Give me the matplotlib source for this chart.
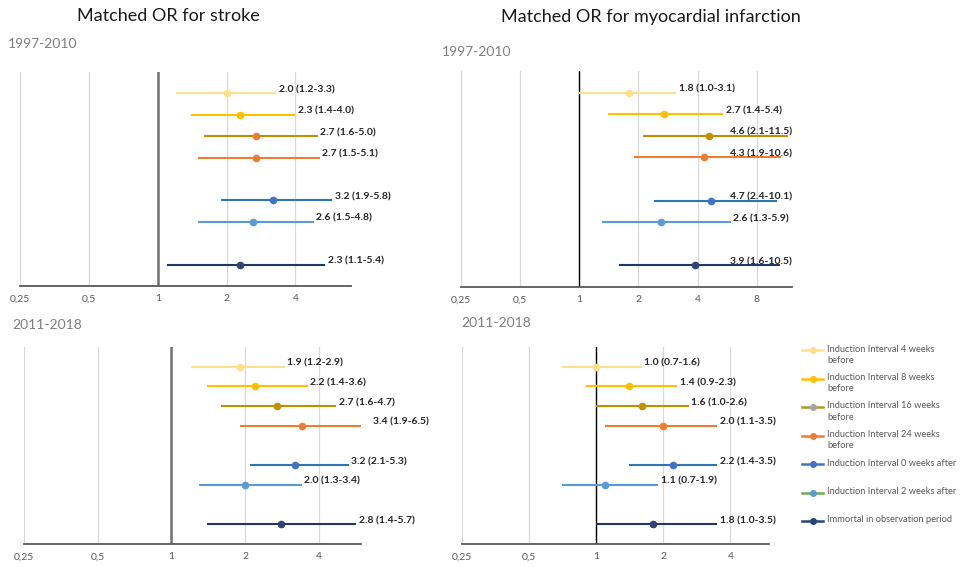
import numpy as np
from matplotlib import pyplot as plt
from matplotlib.lines import Line2D

plt.rcParams['font.family'] = ['Lato', 'DejaVu Sans']

# series (top to bottom in every panel)
series = ["Induction Interval 4 weeks\nbefore",
          "Induction Interval 8 weeks\nbefore",
          "Induction Interval 16 weeks\nbefore",
          "Induction Interval 24 weeks\nbefore",
          "Induction Interval 0 weeks after",
          "Induction Interval 2 weeks after",
          "Immortal in observation period"]

# stroke, 1997-2010
stroke_early_or = [2.0, 2.3, 2.7, 2.7, 3.2, 2.6, 2.3]
stroke_early_lo = [1.2, 1.4, 1.6, 1.5, 1.9, 1.5, 1.1]
stroke_early_hi = [3.3, 4.0, 5.0, 5.1, 5.8, 4.8, 5.4]

# myocardial infarction, 1997-2010
mi_early_or = [1.8, 2.7, 4.6, 4.3, 4.7, 2.6, 3.9]
mi_early_lo = [1.0, 1.4, 2.1, 1.9, 2.4, 1.3, 1.6]
mi_early_hi = [3.1, 5.4, 11.5, 10.6, 10.1, 5.9, 10.5]

# stroke, 2011-2018
stroke_late_or = [1.9, 2.2, 2.7, 3.4, 3.2, 2.0, 2.8]
stroke_late_lo = [1.2, 1.4, 1.6, 1.9, 2.1, 1.3, 1.4]
stroke_late_hi = [2.9, 3.6, 4.7, 6.5, 5.3, 3.4, 5.7]

# myocardial infarction, 2011-2018
mi_late_or = [1.0, 1.4, 1.6, 2.0, 2.2, 1.1, 1.8]
mi_late_lo = [0.7, 0.9, 1.0, 1.1, 1.4, 0.7, 1.0]
mi_late_hi = [1.6, 2.3, 2.6, 3.5, 3.5, 1.9, 3.5]

line_colors = ['#FFE08A', '#FFC000', '#BF9000', '#ED7D31', '#2E75B6', '#5B9BD5', '#1F3864']
marker_colors = ['#FFE08A', '#FFC000', '#BF9000', '#ED7D31', '#4472C4', '#5B9BD5', '#2F4470']
legend_line_colors = ['#FFE08A', '#FFC000', '#A5A01E', '#ED7D31', '#4472C4', '#70AD47', '#264478']
legend_marker_colors = ['#FFE08A', '#FFC000', '#A5A5A5', '#ED7D31', '#4472C4', '#5B9BD5', '#264478']

W, H = 960, 567


def fig_rect(x0, x1, ytop, ybot):
    return [x0 / W, 1 - ybot / H, (x1 - x0) / W, (ybot - ytop) / H]


def panel(fig, rect, ors, los, his, xmax, ticks, one_style, clamp=False,
          mcolors=None):
    ax = fig.add_axes(rect)
    rows = [9, 8, 7, 6, 4, 3, 1]
    mcolors = mcolors or marker_colors
    labels = []
    for i in range(len(ors)):
        ax.errorbar(ors[i], rows[i], xerr=[[ors[i] - los[i]], [his[i] - ors[i]]],
                    fmt='o', ms=4.5, mfc=mcolors[i], mec=mcolors[i],
                    ecolor=line_colors[i], elinewidth=1.5, capsize=0, zorder=3)
        t = ax.annotate(f"{ors[i]:.1f} ({los[i]:.1f}-{his[i]:.1f})",
                        xy=(his[i], rows[i]), xytext=(2, 2.5), textcoords='offset points',
                        ha='left', va='center', fontsize=7.5, fontweight='bold',
                        color='#262626', annotation_clip=False, zorder=4)
        labels.append(t)
    ax.set_xscale('log', base=2)
    ax.set_xlim(0.25, xmax)
    ax.set_ylim(0, 10)
    ax.set_xticks(ticks)
    ax.set_xticklabels([str(t).replace('.', ',') if t < 1 else str(int(t)) for t in ticks])
    ax.xaxis.set_minor_locator(plt.NullLocator())
    ax.set_yticks([])
    ax.tick_params(axis='x', length=0, labelsize=7.5, labelcolor='#595959', pad=6)
    ax.grid(axis='x', color='#D9D9D9', lw=0.9, zorder=0)
    ax.axvline(1, **one_style, zorder=2)
    for s in ['top', 'right', 'left']:
        ax.spines[s].set_visible(False)
    ax.spines['bottom'].set_color('#595959')
    ax.spines['bottom'].set_linewidth(1.3)
    ax.set_facecolor('none')
    return ax, labels, clamp


fig = plt.figure(figsize=(9.6, 5.67), dpi=100)

left_one = dict(color='#707070', lw=1.8)
right_one = dict(color='#000000', lw=1.0)

tl_markers = list(marker_colors)
tl_markers[2] = '#ED7D31'

panels = [
    panel(fig, fig_rect(20, 351, 72, 286), stroke_early_or, stroke_early_lo, stroke_early_hi,
          7.0, [0.25, 0.5, 1, 2, 4], left_one, mcolors=tl_markers),
    panel(fig, fig_rect(461, 792, 71, 287), mi_early_or, mi_early_lo, mi_early_hi,
          12.1, [0.25, 0.5, 1, 2, 4, 8], right_one, clamp=True),
    panel(fig, fig_rect(24, 361, 347, 544), stroke_late_or, stroke_late_lo, stroke_late_hi,
          5.95, [0.25, 0.5, 1, 2, 4], left_one),
    panel(fig, fig_rect(462, 769, 347, 544), mi_late_or, mi_late_lo, mi_late_hi,
          5.96, [0.25, 0.5, 1, 2, 4], right_one),
]

# keep labels inside the plot area where the chart did so
fig.canvas.draw()
r = fig.canvas.get_renderer()
for ax, labels, clamp in panels:
    if not clamp:
        continue
    right = ax.get_window_extent(r).x1
    for t in labels:
        over = t.get_window_extent(r).x1 - right
        if over > 0:
            dx, dy = t.xyann
            t.xyann = (dx - over * 72 / fig.dpi, dy)

fig.text(168 / W, 1 - 16 / H, "Matched OR for stroke", ha='center', va='center',
         fontsize=13, color='#1a1a1a')
fig.text(651 / W, 1 - 17 / H, "Matched OR for myocardial infarction", ha='center',
         va='center', fontsize=13, color='#1a1a1a')
for x, y, s in [(8, 44, "1997-2010"), (442, 52, "1997-2010"),
                (12, 325, "2011-2018"), (461, 323, "2011-2018")]:
    fig.text(x / W, 1 - y / H, s, ha='left', va='center', fontsize=10, color='#7F7F7F')

# legend
for i, name in enumerate(series):
    y = 1 - (350 + 28.5 * i) / H
    fig.add_artist(Line2D([802 / W, 823 / W], [y, y], color=legend_line_colors[i], lw=1.8,
                          transform=fig.transFigure))
    fig.add_artist(Line2D([812.5 / W], [y], marker='o', ms=4, color=legend_marker_colors[i],
                          transform=fig.transFigure))
    fig.text(827 / W, y + 5.5 / H, name, ha='left', va='top', fontsize=6.7,
             color='#595959', linespacing=1.35)

fig.savefig('out.png', dpi=100)
